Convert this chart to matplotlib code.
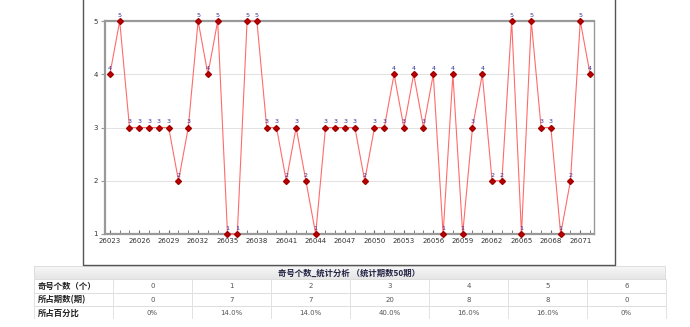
import matplotlib.pyplot as plt
from matplotlib.patches import Rectangle
from matplotlib.colors import LinearSegmentedColormap
import numpy as np

plt.rcParams['font.family'] = ['Noto Sans CJK SC', 'DejaVu Sans']

# issue numbers 26023..26072 and odd-number count per issue
periods = list(range(26023, 26073))
odd_counts = [4, 5, 3, 3, 3, 3, 3, 2, 3, 5,
              4, 5, 1, 1, 5, 5, 3, 3, 2, 3,
              2, 1, 3, 3, 3, 3, 2, 3, 3, 4,
              3, 4, 3, 4, 1, 4, 1, 3, 4, 2,
              2, 5, 1, 5, 3, 3, 1, 2, 5, 4]

# summary table
table_title = "奇号个数_统计分析 （统计期数50期）"
row_labels = ["奇号个数（个）", "所占期数(期)", "所占百分比"]
categories = [0, 1, 2, 3, 4, 5, 6]
issue_counts = [0, 7, 7, 20, 8, 8, 0]
percent_labels = ["0%", "14.0%", "14.0%", "40.0%", "16.0%", "16.0%", "0%"]

W, H = 690, 327
fig = plt.figure(figsize=(W / 100, H / 100), dpi=100)

# ---- line chart ----
ax = fig.add_axes([105 / W, 1 - 234 / H, (594 - 105) / W, (234 - 21) / H])
x = np.arange(len(periods))
ax.plot(x, odd_counts, color="#ff6b6b", lw=0.8, zorder=3, clip_on=False)
ax.plot(x, odd_counts, ls="none", marker="D", ms=3.0, color="#c00000",
        mec="#a00000", zorder=4, clip_on=False)
for xi, v in zip(x, odd_counts):
    ax.text(xi, v + 0.06, str(v), ha="center", va="bottom", fontsize=4.6,
            color="#333399", family="DejaVu Sans", zorder=5)

ax.set_xlim(-0.5, len(periods) - 0.6)
ax.set_ylim(1, 5)
ax.set_yticks([1, 2, 3, 4, 5])
ax.set_yticklabels(["1", "2", "3", "4", "5"], fontsize=5, color="#333333",
                   family="DejaVu Sans")
ax.set_xticks(x[::3])
ax.set_xticklabels([str(p) for p in periods[::3]], fontsize=5, color="#333333",
                   family="DejaVu Sans")
ax.set_xticks(x, minor=True)
ax.tick_params(axis="x", which="both", direction="in", length=3, color="#666666", pad=3)
ax.tick_params(axis="y", direction="out", length=3, color="#999999", pad=2)
ax.grid(axis="y", color="#dddddd", lw=0.6)
ax.set_axisbelow(True)
for side, sp in ax.spines.items():
    sp.set_color("#999999")
    sp.set_linewidth(1.6 if side in ("top", "left", "bottom") else 1.0)

# ---- overlay in pixel space: outer frame and table ----
ov = fig.add_axes([0, 0, 1, 1], zorder=-1)
ov.set_xlim(0, W)
ov.set_ylim(H, 0)
ov.axis("off")

ov.plot([83, 83, 615, 615], [0, 265, 265, 0], color="#555555", lw=1.0)

tx0, tx1 = 34, 665
col_x = [113 + 79 * i for i in range(8)]
row_y = [266, 279, 293, 306, 320]

# header with soft gradient
grad = LinearSegmentedColormap.from_list("g", ["#f7f7f7", "#e6e6e6"])
ov.imshow(np.linspace(0, 1, 20).reshape(-1, 1), cmap=grad, aspect="auto",
          extent=(tx0, tx1, row_y[1], row_y[0]), zorder=0)
ov.text((tx0 + tx1) / 2, (row_y[0] + row_y[1]) / 2 + 0.5, table_title,
        ha="center", va="center", fontsize=6, fontweight="bold", color="#222244")

ov.add_patch(Rectangle((tx0, row_y[0]), tx1 - tx0, row_y[1] - row_y[0],
                       fill=False, ec="#dddddd", lw=0.7))
for y in row_y[1:4]:
    ov.plot([tx0, tx1], [y, y], color="#dddddd", lw=0.7)
for cx in [tx0] + col_x:
    ov.plot([cx, cx], [row_y[1], row_y[4] - 2], color="#e2e2e2", lw=0.7)

for r, lab in enumerate(row_labels):
    cy = (row_y[r + 1] + row_y[r + 2]) / 2
    ov.text(tx0 + 4, cy, lab, ha="left", va="center", fontsize=6,
            fontweight="bold", color="#222222")

rows = [[str(c) for c in categories], [str(n) for n in issue_counts], percent_labels]
for r, vals in enumerate(rows):
    cy = (row_y[r + 1] + row_y[r + 2]) / 2
    for i, v in enumerate(vals):
        cx = (col_x[i] + col_x[i + 1]) / 2
        ov.text(cx, cy, v, ha="center", va="center", fontsize=5,
                color="#555555", family="DejaVu Sans")

fig.savefig("out.png", dpi=100)
